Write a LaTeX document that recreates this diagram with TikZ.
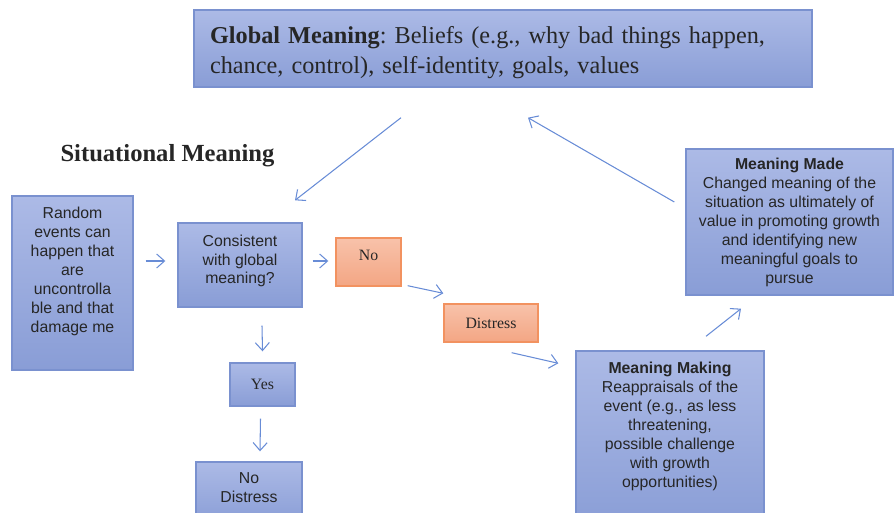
\documentclass[tikz,border=0pt]{standalone}
\usepackage{fontspec}
\setmainfont{Liberation Serif}
\setsansfont{Liberation Sans}
\usetikzlibrary{arrows.meta}
\frenchspacing

\definecolor{bluetop}{RGB}{172,186,230}
\definecolor{bluebot}{RGB}{137,157,214}
\definecolor{blueline}{RGB}{122,145,207}
\definecolor{orangetop}{RGB}{248,194,170}
\definecolor{orangebot}{RGB}{243,166,132}
\definecolor{orangeline}{RGB}{242,146,96}
\definecolor{arrowblue}{RGB}{104,140,214}

\tikzset{
  bluebox/.style={draw=blueline, line width=0.8pt, top color=bluetop, bottom color=bluebot, inner sep=2pt, align=center, font=\sffamily\fontsize{9}{10.8}\selectfont, text=black!85},
  orangebox/.style={draw=orangeline, line width=0.8pt, top color=orangetop, bottom color=orangebot, inner sep=2pt, font=\fontsize{9}{10.8}\selectfont, text=black!85},
  flow/.style={draw=arrowblue, line width=0.6pt, -{Straight Barb[length=4.5pt,width=8pt]}}
}

\begin{document}
\begin{tikzpicture}[x=0.02cm, y=-0.02cm]
\useasboundingbox (0,0) rectangle (896,513);
\node (glob) at (503,48.5) [bluebox, font=\rmfamily\fontsize{13.8}{17}\selectfont, align=left, minimum width=12.36cm, minimum height=1.54cm, text width=11.72cm, text height=14pt] {\textbf{Global Meaning}: Beliefs (e.g., why bad things happen,\\ chance, control), self-identity, goals, values};
\node (title) at (167.5,156) [font=\rmfamily\bfseries\fontsize{14}{17}\selectfont, text=black!85] {Situational Meaning};
\node (rand) at (72.5,283) [bluebox, minimum width=2.42cm, minimum height=3.48cm, text depth=15pt] {Random\\ events can\\ happen that\\ are\\ uncontrolla\\ ble and that\\ damage me};
\node (cons) at (240,265) [bluebox, minimum width=2.48cm, minimum height=1.68cm, text depth=6.5pt] {Consistent\\ with global\\ meaning?};
\node (no) at (368.5,262) [orangebox, minimum width=1.30cm, minimum height=0.96cm, text depth=7.5pt] {No\hspace{7pt}};
\node (dist) at (491,323) [orangebox, minimum width=1.88cm, minimum height=0.76cm] {Distress\hspace{4pt}};
\node (yes) at (262.5,384.5) [bluebox, font=\rmfamily\fontsize{9}{10.8}\selectfont, minimum width=1.30cm, minimum height=0.86cm] {Yes};
\node (nod) at (249,493.5) [bluebox, minimum width=2.12cm, minimum height=1.26cm, text depth=7pt] {No\\ Distress};
\node (mm) at (670,440.5) [bluebox, minimum width=3.76cm, minimum height=3.58cm, text depth=18pt] {\textbf{Meaning Making}\\ Reappraisals of the\\ event (e.g., as less\\ threatening,\\ possible challenge\\ with growth\\ opportunities)};
\node (made) at (789.5,222) [bluebox, minimum width=4.14cm, minimum height=2.92cm] {\textbf{Meaning Made}\\ Changed meaning of the\\ situation as ultimately of\\ value in promoting growth\\ and identifying new\\ meaningful goals to\\ pursue};
% connectors
\draw [flow] ([shift={(-102,30)}]glob.south) -- ([shift={(55,-22)}]cons.north);
\draw [flow] ([shift={(-11,-20)}]made.west) -- ([shift={(25,30)}]glob.south);
\draw [flow] ([shift={(12,-22)}]rand.east) -- ([shift={(-12,-4)}]cons.west);
\draw [flow] ([shift={(10,-4)}]cons.east) -- ([shift={(-7,-1)}]no.west);
\draw [flow] ([shift={(6,-1)}]no.south east) -- ([shift={(0,-10)}]dist.north west);
\draw [flow] ([shift={(-27,10)}]dist.south east) -- ([shift={(-17,13)}]mm.north west);
\draw [flow] ([shift={(36,-14)}]mm.north) -- ([shift={(-48.5,13)}]made.south);
\draw [flow] ([shift={(22,18)}]cons.south) -- ([shift={(0,-11)}]yes.north);
\draw [flow] ([shift={(-2,12)}]yes.south) -- ([shift={(11,-10)}]nod.north);
\end{tikzpicture}
\end{document}
